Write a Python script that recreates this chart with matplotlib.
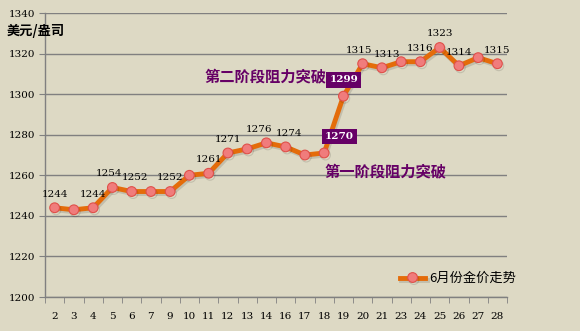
import matplotlib.pyplot as plt
import matplotlib.patheffects as pe

# June gold price trend
days = ['2', '3', '4', '5', '6', '7', '9', '10', '11', '12', '13', '14',
        '16', '17', '18', '19', '20', '21', '23', '24', '25', '26', '27', '28']
prices = [1244, 1243, 1244, 1254, 1252, 1252, 1252, 1260, 1261, 1271, 1273, 1276,
          1274, 1270, 1271, 1299, 1315, 1313, 1316, 1316, 1323, 1314, 1318, 1315]
# which points get a number label
labeled = ['2', '4', '5', '6', '9', '11', '12', '14', '16', '20', '21', '24', '25', '26', '28']
boxed = {'18': '1270', '19': '1299'}

bg = '#DDD9C4'
purple = '#660066'
serif = ['DejaVu Serif', 'Noto Sans CJK SC']
cjk = ['Noto Sans CJK SC', 'DejaVu Sans']

fig = plt.figure(figsize=(5.8, 3.31), dpi=100, facecolor=bg)
ax = fig.add_axes([0.0776, 0.1027, 0.7966, 0.858])
ax.set_facecolor(bg)

x = list(range(len(days)))
ax.plot(x, prices, color='#E46C0A', lw=3.5, marker='o', ms=7,
        markerfacecolor='#F07C7C', markeredgecolor='#E0504A', markeredgewidth=0.8,
        label='6月份金价走势', zorder=3,
        path_effects=[pe.SimpleLineShadow(offset=(1, -1.5), alpha=0.12), pe.Normal()])

# small nudges so neighbouring labels don't collide
nudge = {'5': -0.2, '6': 0.2, '14': -0.4, '16': 0.15, '20': -0.2, '21': 0.25}
for i, (d, p) in enumerate(zip(days, prices)):
    if d in labeled:
        ax.text(i + nudge.get(d, 0), p + 4.5, str(p), ha='center', va='bottom',
                fontsize=7.5, family=serif, color='black')

ax.text(15.03, 1307, boxed['19'], ha='center', va='center', fontsize=7.5, color='white',
        fontweight='bold', family=serif,
        bbox=dict(boxstyle='square,pad=0.3', fc=purple, ec='none'), zorder=5)
ax.text(14.8, 1279, boxed['18'], ha='center', va='center', fontsize=7.5, color='white',
        fontweight='bold', family=serif,
        bbox=dict(boxstyle='square,pad=0.3', fc=purple, ec='none'), zorder=5)

ax.text(10.93, 1309, '第二阶段阻力突破', ha='center', va='center', fontsize=11,
        color=purple, fontweight='bold', family=cjk)
ax.text(17.16, 1262, '第一阶段阻力突破', ha='center', va='center', fontsize=11,
        color=purple, fontweight='bold', family=cjk)
fig.text(0.012, 0.905, '美元/盎司', fontsize=9.5, fontweight='bold', family=cjk,
         va='center', ha='left')

ax.set_xlim(-0.5, len(days) - 0.5)
ax.set_ylim(1200, 1340)
ax.set_yticks(range(1200, 1341, 20))
ax.set_xticks(x)
ax.set_xticklabels(days, family=serif, fontsize=7.5)
ax.set_xticks([i - 0.5 for i in range(len(days) + 1)], minor=True)
ax.tick_params(axis='x', which='major', length=0, pad=11)
ax.tick_params(axis='x', which='minor', length=4, color='#808080', direction='out')
ax.tick_params(axis='y', length=4, color='#808080', pad=3, labelsize=7.5)
for lab in ax.get_yticklabels():
    lab.set_family(serif)

ax.grid(axis='y', color='#808080', lw=1)
ax.set_axisbelow(True)
for s in ['top', 'right']:
    ax.spines[s].set_visible(False)
for s in ['left', 'bottom']:
    ax.spines[s].set_color('#808080')
    ax.spines[s].set_linewidth(1)

leg = ax.legend(loc='lower right', bbox_to_anchor=(1.045, 0.0), frameon=False,
                prop={'family': cjk, 'size': 9.5}, handlelength=1.9, handletextpad=0.3)

fig.savefig('out.png', dpi=100, facecolor=bg)
